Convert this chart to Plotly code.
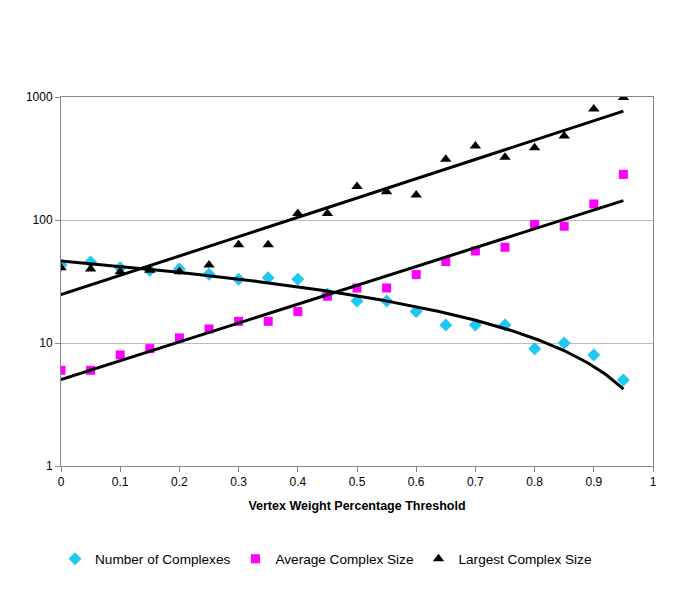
import numpy as np
import plotly.graph_objects as go

thresholds = [0, 0.05, 0.1, 0.15, 0.2, 0.25, 0.3, 0.35, 0.4, 0.45,
              0.5, 0.55, 0.6, 0.65, 0.7, 0.75, 0.8, 0.85, 0.9, 0.95]
num_complexes = [43, 45.5, 41, 39, 40, 36.3, 33, 34, 33, 25,
                 22, 22, 18, 14, 14, 14, 9, 10, 8, 5]
avg_size = [6, 6, 8, 9, 11, 13, 15, 15, 18, 24,
            28, 28, 36, 46, 56, 60, 92, 89, 135, 235]
largest_size = [41, 40, 38, 39, 38, 43, 63, 63, 113, 113,
                187, 170, 160, 312, 400, 323, 387, 482, 800, 990]
x_ticks = [0, 0.1, 0.2, 0.3, 0.4, 0.5, 0.6, 0.7, 0.8, 0.9, 1]
y_ticks = [1, 10, 100, 1000]

FONT = "Liberation Sans, Arial, sans-serif"
x = np.array(thresholds)
xs = np.linspace(0, 0.95, 200)

# Excel-style trendlines: linear for number, exponential for sizes
lin = np.polyfit(x, np.array(num_complexes), 1)
num_fit = np.polyval(lin, xs)
e1 = np.polyfit(x, np.log(np.array(avg_size)), 1)
avg_fit = np.exp(np.polyval(e1, xs))
e2 = np.polyfit(x, np.log(np.array(largest_size)), 1)
lar_fit = np.exp(np.polyval(e2, xs))

fig = go.Figure()
fig.add_trace(go.Scatter(x=thresholds, y=num_complexes, mode="markers",
                         name="Number of Complexes",
                         marker=dict(symbol="diamond", size=10, color="#1EC8F0")))
fig.add_trace(go.Scatter(x=thresholds, y=avg_size, mode="markers",
                         name="Average Complex Size",
                         marker=dict(symbol="square", size=9, color="#FF00FF")))
fig.add_trace(go.Scatter(x=thresholds, y=largest_size, mode="markers",
                         name="Largest Complex Size",
                         marker=dict(symbol="triangle-up", size=10, color="#000000")))
for yf in (num_fit, avg_fit, lar_fit):
    fig.add_trace(go.Scatter(x=xs, y=yf, mode="lines", showlegend=False,
                             hoverinfo="skip",
                             line=dict(color="#000000", width=3)))

fig.update_layout(
    width=685, height=599,
    margin=dict(l=53, r=40, t=89, b=141),
    paper_bgcolor="white", plot_bgcolor="white",
    font=dict(family=FONT, size=12, color="#000000"),
    showlegend=True,
    legend=dict(orientation="h", x=-0.0101, xanchor="left", y=-0.252, yanchor="middle",
                font=dict(size=13.6), itemsizing="trace", traceorder="normal",
                itemwidth=30),
    xaxis=dict(range=[0, 1], tickvals=x_ticks, ticktext=[str(t) for t in x_ticks],
               showgrid=False, zeroline=False, showline=True, linecolor="#888888",
               linewidth=1, mirror=True, ticks="outside", ticklen=5,
               tickcolor="#888888", tickfont=dict(size=12),
               title=dict(text="<b>Vertex Weight Percentage Threshold</b>",
                          font=dict(size=12.5), standoff=12)),
    yaxis=dict(type="log", range=[0, 3], tickvals=y_ticks,
               ticktext=[str(t) for t in y_ticks],
               showgrid=True, gridcolor="#BBBBBB", gridwidth=1, zeroline=False,
               showline=True, linecolor="#888888", linewidth=1, mirror=True,
               ticks="outside", ticklen=5, tickcolor="#888888",
               tickfont=dict(size=12)),
)

fig.write_html("out.html")
